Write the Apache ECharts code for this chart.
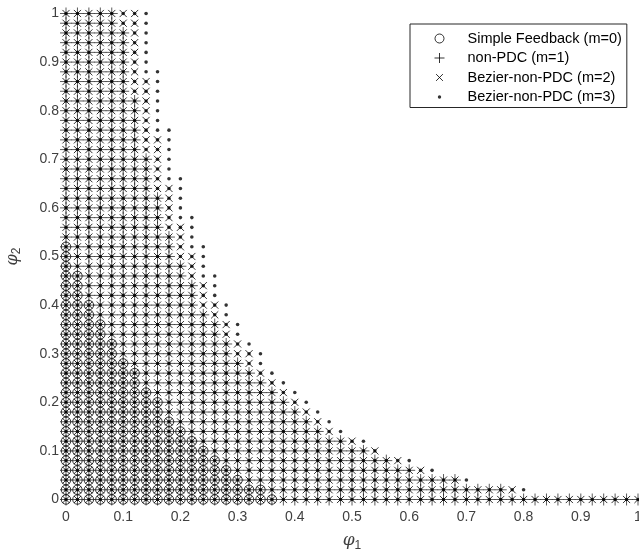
<!DOCTYPE html>
<html>
<head>
<meta charset="utf-8">
<script src="https://cdn.jsdelivr.net/npm/echarts@6/dist/echarts.min.js"></script>
<style>
  html, body { margin: 0; padding: 0; background: #fff; }
  #chart { width: 639px; height: 557px; }
</style>
</head>
<body>
<div id="chart"></div>
<script>
// grid of tested gains
const phi1 = [0, 0.02, 0.04, 0.06, 0.08, 0.1, 0.12, 0.14, 0.16, 0.18,
  0.2, 0.22, 0.24, 0.26, 0.28, 0.3, 0.32, 0.34, 0.36, 0.38,
  0.4, 0.42, 0.44, 0.46, 0.48, 0.5, 0.52, 0.54, 0.56, 0.58,
  0.6, 0.62, 0.64, 0.66, 0.68, 0.7, 0.72, 0.74, 0.76, 0.78,
  0.8, 0.82, 0.84, 0.86, 0.88, 0.9, 0.92, 0.94, 0.96, 0.98, 1];
const phi2 = [0, 0.02, 0.04, 0.06, 0.08, 0.1, 0.12, 0.14, 0.16, 0.18,
  0.2, 0.22, 0.24, 0.26, 0.28, 0.3, 0.32, 0.34, 0.36, 0.38,
  0.4, 0.42, 0.44, 0.46, 0.48, 0.5, 0.52, 0.54, 0.56, 0.58,
  0.6, 0.62, 0.64, 0.66, 0.68, 0.7, 0.72, 0.74, 0.76, 0.78,
  0.8, 0.82, 0.84, 0.86, 0.88, 0.9, 0.92, 0.94, 0.96, 0.98, 1];

// highest stable phi2 for each phi1 column (index = phi1 index)
const maxM0 = [0.52, 0.46, 0.40, 0.36, 0.32, 0.28, 0.26, 0.22, 0.20, 0.16,
  0.14, 0.12, 0.10, 0.08, 0.06, 0.04, 0.02, 0.02, 0];
const maxM1 = [1, 1, 1, 1, 1, 0.96, 0.82, 0.70, 0.62, 0.54,
  0.48, 0.44, 0.38, 0.36, 0.32, 0.28, 0.26, 0.24, 0.22, 0.20,
  0.18, 0.16, 0.14, 0.12, 0.12, 0.10, 0.10, 0.08, 0.08, 0.06,
  0.06, 0.04, 0.04, 0.04, 0.04, 0.02, 0.02, 0.02, 0.02, 0,
  0, 0, 0, 0, 0, 0, 0, 0, 0, 0, 0];
const maxM2 = [1, 1, 1, 1, 1, 1, 1, 0.86, 0.74, 0.64,
  0.56, 0.50, 0.44, 0.40, 0.36, 0.32, 0.30, 0.26, 0.24, 0.22,
  0.20, 0.18, 0.16, 0.14, 0.12, 0.12, 0.10, 0.10, 0.08, 0.08,
  0.06, 0.06, 0.04, 0.04, 0.04, 0.02, 0.02, 0.02, 0.02, 0.02,
  0, 0, 0, 0, 0, 0, 0, 0, 0, 0, 0];
const maxM3 = [1, 1, 1, 1, 1, 1, 1, 1, 0.88, 0.76,
  0.66, 0.58, 0.52, 0.46, 0.40, 0.36, 0.32, 0.30, 0.26, 0.24,
  0.22, 0.20, 0.18, 0.16, 0.14, 0.12, 0.12, 0.10, 0.08, 0.08,
  0.08, 0.06, 0.06, 0.04, 0.04, 0.04, 0.02, 0.02, 0.02, 0.02,
  0.02, 0, 0, 0, 0, 0, 0, 0, 0, 0, 0];

const seriesNames = ['Simple Feedback (m=0)', 'non-PDC (m=1)', 'Bezier-non-PDC (m=2)', 'Bezier-non-PDC (m=3)'];

// marker shapes, all drawn in a 10x10 box
const symCircle = 'path://M0,0M10,10M9.5,5A4.5,4.5,0,1,1,0.5,5A4.5,4.5,0,1,1,9.5,5Z';
const symPlus = 'path://M0,5L10,5M5,0L5,10';
const symCross = 'path://M0,0M10,10M1.6,1.6L8.4,8.4M8.4,1.6L1.6,8.4';
const symDot = 'path://M0,0M10,10M6.7,5A1.7,1.7,0,1,1,3.3,5A1.7,1.7,0,1,1,6.7,5Z';

function gridPoints(maxArr) {
  const pts = [];
  maxArr.forEach((m, i) => {
    phi2.forEach(y => {
      if (y <= m + 1e-9) pts.push([phi1[i], y]);
    });
  });
  return pts;
}

const lineStyle = { color: 'none', borderColor: '#000', borderWidth: 1 };
const plusStyle = { color: 'none', borderColor: '#1a1a1a', borderWidth: 0.9 };
const fontFam = 'Arial, "Liberation Sans", sans-serif';

const chart = echarts.init(document.getElementById('chart'));
chart.setOption({
  animation: false,
  backgroundColor: '#fff',
  grid: { left: 66, right: 1, top: 13.5, bottom: 57.5, outerBoundsMode: 'none' },
  xAxis: {
    type: 'value', min: 0, max: 1, interval: 0.1,
    axisLine: { show: false }, axisTick: { show: false }, splitLine: { show: false },
    axisLabel: { color: '#404040', fontSize: 14, fontFamily: fontFam, margin: 11,
      formatter: v => String(+v.toFixed(1)) },
    name: '{p|φ}{s|1}', nameLocation: 'middle', nameGap: 31,
    nameTextStyle: {
      rich: {
        p: { fontSize: 17, fontStyle: 'italic', fontFamily: 'DejaVu Serif', color: '#404040' },
        s: { fontSize: 12, fontFamily: fontFam, color: '#404040', padding: [9, 0, 0, 0] }
      }
    }
  },
  yAxis: {
    type: 'value', min: 0, max: 1, interval: 0.1,
    axisLine: { show: false }, axisTick: { show: false }, splitLine: { show: false },
    axisLabel: { color: '#404040', fontSize: 14, fontFamily: fontFam, margin: 7,
      formatter: v => String(+v.toFixed(1)) },
    name: '{p|φ}{s|2}', nameLocation: 'middle', nameGap: 43, nameRotate: 90,
    nameTextStyle: {
      rich: {
        p: { fontSize: 16, fontStyle: 'italic', fontFamily: 'DejaVu Serif', color: '#404040' },
        s: { fontSize: 12, fontFamily: fontFam, color: '#404040', padding: [9, 0, 0, 0] }
      }
    }
  },
  legend: {
    orient: 'vertical', left: 410, top: 24,
    backgroundColor: '#fff', borderColor: '#262626', borderWidth: 1,
    padding: [7, 5, 3, 22], itemGap: 4.5, itemWidth: 46, itemHeight: 10,
    textStyle: { fontSize: 14.5, lineHeight: 14, fontFamily: fontFam, color: '#000' },
    data: [
      { name: seriesNames[0], icon: symCircle, itemStyle: lineStyle },
      { name: seriesNames[1], icon: symPlus, itemStyle: lineStyle },
      { name: seriesNames[2], icon: symCross, itemStyle: lineStyle },
      { name: seriesNames[3], icon: symDot, itemStyle: { color: '#000', borderWidth: 0 } }
    ]
  },
  series: [
    { name: seriesNames[0], type: 'scatter', symbol: symCircle, symbolSize: 10.5,
      itemStyle: lineStyle, data: gridPoints(maxM0), large: false, clip: false },
    { name: seriesNames[1], type: 'scatter', symbol: symPlus, symbolSize: 12,
      itemStyle: plusStyle, data: gridPoints(maxM1), large: false, clip: false },
    { name: seriesNames[2], type: 'scatter', symbol: symCross, symbolSize: 10.5,
      itemStyle: lineStyle, data: gridPoints(maxM2), large: false, clip: false },
    { name: seriesNames[3], type: 'scatter', symbol: symDot, symbolSize: 10.5,
      itemStyle: { color: '#000' }, data: gridPoints(maxM3), large: false, clip: false }
  ]
});
</script>
</body>
</html>
